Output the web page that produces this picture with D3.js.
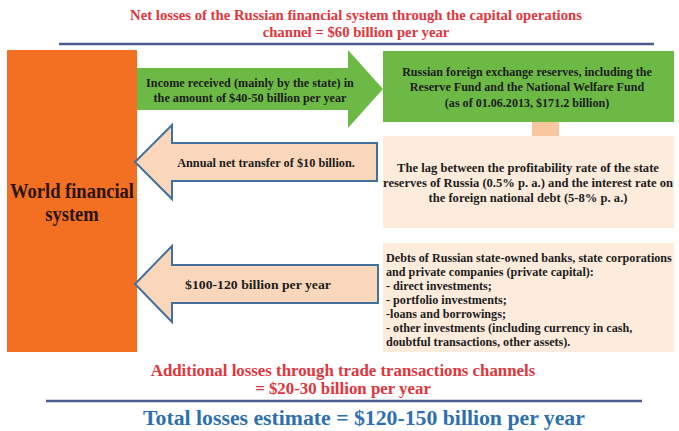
<!DOCTYPE html>
<html>
<head>
<meta charset="utf-8">
<script src="https://cdn.jsdelivr.net/npm/d3@7"></script>
<style>
  html, body { margin: 0; padding: 0; background: #ffffff; }
  svg { display: block; }
  text { font-family: "Liberation Serif", "Times New Roman", serif; font-weight: bold; }
</style>
</head>
<body>
<div id="chart"></div>
<script>
// ---------- content ----------
const titleLines = ["Net losses of the Russian financial system through the capital operations",
                    "channel = $60 billion per year"];
const worldLines = ["World financial", "system"];
const incomeLines = ["Income received (mainly by the state) in",
                     "the amount of $40-50 billion per year"];
const reserveLines = ["Russian foreign exchange reserves, including the",
                      "Reserve Fund and the National Welfare Fund",
                      "(as of 01.06.2013, $171.2 billion)"];
const lagLines = ["The lag between the profitability rate of the state",
                  "reserves of Russia (0.5% p. a.) and the interest  rate on",
                  "the foreign national debt (5-8% p. a.)"];
const transferLines = ["Annual net transfer of $10 billion."];
const debtLines = ["Debts of Russian state-owned banks, state corporations",
                   "and private companies (private capital):",
                   "- direct investments;",
                   "- portfolio investments;",
                   "-loans and borrowings;",
                   "- other investments (including currency in cash,",
                   "doubtful transactions, other assets)."];
const outflowLines = ["$100-120 billion per year"];
const tradeLines = ["Additional losses through trade transactions channels",
                    "= $20-30 billion per year"];
const totalLines = ["Total losses estimate = $120-150 billion per year"];

// ---------- drawing ----------
const W = 679, H = 431;
const svg = d3.select("#chart").append("svg").attr("width", W).attr("height", H);

const C = {
  red: "#e2353c", rule: "#4a5b8c", orange: "#f36f21", green: "#6cba45",
  peachBox: "#fdebdc", peachArrow: "#fad7ba", connector: "#f8c7a0",
  arrowStroke: "#41719c", dark: "#1c1c1c", world: "#2a1408", blue: "#2e6fb0"
};

// text block helper: lines, anchor x, first-line centre y, spacing, size,
// target width of the widest line (reached by a horizontal condensing scale)
function textBlock(lines, o) {
  const g = svg.append("g");
  const ts = g.selectAll("text").data(lines).join("text")
    .attr("x", 0)
    .attr("y", (d, i) => o.y + i * o.dy)
    .attr("dy", "0.35em")
    .attr("text-anchor", o.anchor || "middle")
    .attr("font-size", o.size)
    .attr("fill", o.fill || C.dark)
    .text(d => d);
  let k = 1;
  if (o.width) {
    const lens = ts.nodes().map(n => n.getComputedTextLength());
    k = o.width / d3.max(lens);
  }
  g.attr("transform", `translate(${o.x},0) scale(${k},1)`);
  return g;
}

// arrow path helper (horizontal arrow)
function arrowPath(a) {
  const p = d3.path();
  p.moveTo(a.tail, a.cy - a.bh / 2);
  p.lineTo(a.neck, a.cy - a.bh / 2);
  p.lineTo(a.neck, a.cy - a.hh / 2);
  p.lineTo(a.tip, a.cy);
  p.lineTo(a.neck, a.cy + a.hh / 2);
  p.lineTo(a.neck, a.cy + a.bh / 2);
  p.lineTo(a.tail, a.cy + a.bh / 2);
  p.closePath();
  return p.toString();
}

// title
textBlock(titleLines, {x: 356, y: 15, dy: 16.5, size: 15.5, fill: C.red, width: 452});
svg.append("line").attr("x1", 59).attr("x2", 654).attr("y1", 44).attr("y2", 44)
  .attr("stroke", C.rule).attr("stroke-width", 2.5);

// World financial system block
svg.append("rect").attr("x", 7).attr("y", 50).attr("width", 130).attr("height", 302).attr("fill", C.orange);
textBlock(worldLines, {x: 72, y: 191, dy: 23, size: 20.5, fill: C.world, width: 124});

// green arrow
svg.append("path").attr("d", arrowPath({tail: 137, neck: 348, tip: 383, cy: 89, bh: 42, hh: 78}))
  .attr("fill", C.green);
textBlock(incomeLines, {x: 250, y: 82, dy: 15.5, size: 13.5, width: 208});

// reserves box
svg.append("rect").attr("x", 383).attr("y", 51).attr("width", 291).attr("height", 71).attr("fill", C.green);
textBlock(reserveLines, {x: 527, y: 71, dy: 15.5, size: 13.5, width: 250});

// connector
svg.append("rect").attr("x", 532).attr("y", 122).attr("width", 27).attr("height", 14).attr("fill", C.connector);

// lag box
svg.append("rect").attr("x", 383).attr("y", 136).attr("width", 291).attr("height", 92).attr("fill", C.peachBox);
textBlock(lagLines, {x: 528, y: 167, dy: 15, size: 13.5, width: 290});

// transfer arrow
svg.append("path").attr("d", arrowPath({tail: 377, neck: 172, tip: 135, cy: 162, bh: 38, hh: 74}))
  .attr("fill", C.peachArrow).attr("stroke", C.arrowStroke).attr("stroke-width", 2);
textBlock(transferLines, {x: 266, y: 162, dy: 0, size: 13.5, width: 178});

// debts box
svg.append("rect").attr("x", 383).attr("y", 243).attr("width", 291).attr("height", 109).attr("fill", C.peachBox);
textBlock(debtLines, {x: 386, y: 257, dy: 14, size: 13, anchor: "start", width: 286});

// outflow arrow
svg.append("path").attr("d", arrowPath({tail: 378, neck: 172, tip: 135, cy: 284, bh: 38, hh: 76}))
  .attr("fill", C.peachArrow).attr("stroke", C.arrowStroke).attr("stroke-width", 2);
textBlock(outflowLines, {x: 258, y: 284, dy: 0, size: 13.5, width: 146});

// bottom
textBlock(tradeLines, {x: 343, y: 370, dy: 18.5, size: 17, fill: C.red, width: 385});
svg.append("line").attr("x1", 46).attr("x2", 642).attr("y1", 401).attr("y2", 401)
  .attr("stroke", C.rule).attr("stroke-width", 2.5);
textBlock(totalLines, {x: 364, y: 418, dy: 0, size: 20.5, fill: C.blue, width: 442});
</script>
</body>
</html>
